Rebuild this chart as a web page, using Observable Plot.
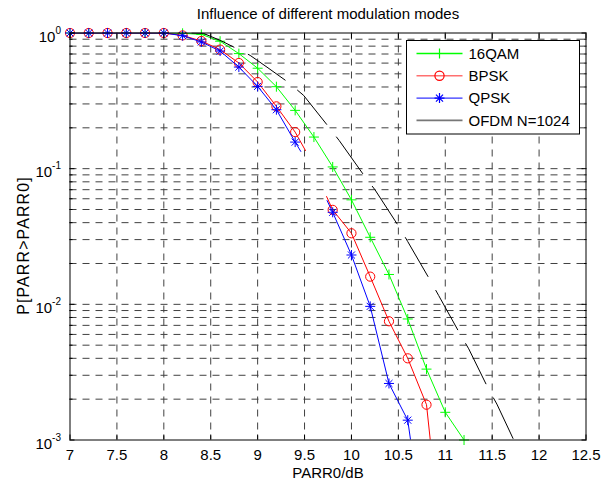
<!DOCTYPE html>
<html><head><meta charset="utf-8">
<script src="https://cdn.jsdelivr.net/npm/d3@7"></script>
<script src="https://cdn.jsdelivr.net/npm/@observablehq/plot@0.6"></script>
<style>
html,body{margin:0;padding:0;background:#fff;}
#chart svg{display:block;}
</style></head><body><div id="chart"></div>
<script>
// ---------- data ----------
const titleText = "Influence of different modulation modes";
const xLabelText = "PARR0/dB";
const yLabelText = "P[PARR>PARR0]";
const seriesNames = ["16QAM", "BPSK", "QPSK", "OFDM N=1024"];
const seriesColors = ["#00ff00", "#ff0000", "#0000ff", "#000000"];

const xTicks = [7, 7.5, 8, 8.5, 9, 9.5, 10, 10.5, 11, 11.5, 12, 12.5];
const yMajor = [1e-3, 1e-2, 1e-1, 1];
const yMinor = [2e-3,3e-3,4e-3,5e-3,6e-3,7e-3,8e-3,9e-3,
                2e-2,3e-2,4e-2,5e-2,6e-2,7e-2,8e-2,9e-2,
                2e-1,3e-1,4e-1,5e-1,6e-1,7e-1,8e-1,9e-1];

// 16QAM (continuous)
const qamX = [7.0,7.2,7.4,7.6,7.8,8.0,8.2,8.4,8.6,8.8,9.0,9.2,9.4,9.6,9.8,10.0,10.2,10.4,10.6,10.8,11.0,11.2];
const qamP = [1,1,1,1,1,1,0.995,0.977,0.87,0.705,0.55,0.402,0.269,0.171,0.103,0.0589,0.0312,0.0166,0.0078,0.00333,0.0016,0.001];
// BPSK (two pieces, NaN = break)
const bpskX = [7.0,7.2,7.4,7.6,7.8,8.0,8.2,8.4,8.6,8.8,9.0,9.2,9.4,9.51,9.6,9.735,9.8,10.0,10.2,10.4,10.6,10.8,10.84];
const bpskP = [1,1,1,1,1,1,0.96,0.873,0.754,0.601,0.435,0.288,0.186,0.136,NaN,0.0623,0.0497,0.0334,0.016,0.0075,0.0040,0.00182,0.001];
// QPSK (two pieces, NaN = break)
const qpskX = [7.0,7.2,7.4,7.6,7.8,8.0,8.2,8.4,8.6,8.8,9.0,9.2,9.4,9.46,9.6,9.74,9.8,10.0,10.2,10.4,10.6,10.63];
const qpskP = [1,1,1,1,1,1,0.955,0.859,0.736,0.561,0.404,0.272,0.157,0.134,NaN,0.0582,0.0477,0.0231,0.00966,0.00261,0.0014,0.001];
// OFDM N=1024 (dashed, no markers)
const ofdmX = [8.30,8.42,8.60,8.78,8.92,9.10,9.32,9.49,9.76,9.87,10.15,10.25,10.51,10.60,10.84,10.93,11.16,11.25,11.46,11.55,11.73];
const ofdmP = [1.0,0.995,0.883,0.767,0.684,0.56,0.436,0.347,0.202,0.161,0.086,0.070,0.037,0.029,0.0150,0.0116,0.0060,0.0047,0.00238,0.00184,0.001];

// ---------- helpers ----------
const rows = (X, P) => X.map((x, i) => ({x, p: P[i]}));
const onGrid = d => Number.isFinite(d.p) && Math.abs(d.x * 5 - Math.round(d.x * 5)) < 1e-6;
const qam = rows(qamX, qamP), bpsk = rows(bpskX, bpskP), qpsk = rows(qpskX, qpskP), ofdm = rows(ofdmX, ofdmP);

const plusSym = {draw(ctx, size) { const r = Math.sqrt(size / Math.PI);
  ctx.moveTo(-r, 0); ctx.lineTo(r, 0); ctx.moveTo(0, -r); ctx.lineTo(0, r); }};
const starSym = {draw(ctx, size) { const r = Math.sqrt(size / Math.PI), d = r * 0.7071;
  ctx.moveTo(-r, 0); ctx.lineTo(r, 0); ctx.moveTo(0, -r); ctx.lineTo(0, r);
  ctx.moveTo(-d, -d); ctx.lineTo(d, d); ctx.moveTo(-d, d); ctx.lineTo(d, -d); }};
const circSym = {draw(ctx, size) { const r = Math.sqrt(size / Math.PI);
  ctx.moveTo(r, 0); ctx.arc(0, 0, r, 0, 2 * Math.PI); }};

const W = 602, H = 482, mL = 69.5, mR = 16.5, mT = 32.5, mB = 42.5;
const gridStyle = {stroke: "#404040", strokeWidth: 1, strokeDasharray: "7,6"};
const font = "Liberation Sans, Arial, Helvetica, sans-serif";

const chart = Plot.plot({
  width: W, height: H,
  marginLeft: mL, marginRight: mR, marginTop: mT, marginBottom: mB,
  style: {fontFamily: font, fontSize: "15px", color: "black", background: "white", overflow: "visible"},
  x: {domain: [7, 12.5], label: null},
  y: {type: "log", domain: [1e-3, 1], label: null},
  marks: [
    Plot.ruleX(xTicks.slice(1, -1), gridStyle),
    Plot.ruleY(yMinor.concat([1e-2, 1e-1]), gridStyle),
    Plot.line(qam, {x: "x", y: "p", stroke: seriesColors[0], strokeWidth: 1, clip: true}),
    Plot.dot(qam.filter(onGrid), {x: "x", y: "p", symbol: plusSym, r: 5, fill: "none", stroke: seriesColors[0], strokeWidth: 1}),
    Plot.line(bpsk, {x: "x", y: "p", stroke: seriesColors[1], strokeWidth: 1, clip: true}),
    Plot.dot(bpsk.filter(onGrid), {x: "x", y: "p", symbol: circSym, r: 4.6, fill: "none", stroke: seriesColors[1], strokeWidth: 1}),
    Plot.line(qpsk, {x: "x", y: "p", stroke: seriesColors[2], strokeWidth: 1, clip: true}),
    Plot.dot(qpsk.filter(onGrid), {x: "x", y: "p", symbol: starSym, r: 5, fill: "none", stroke: seriesColors[2], strokeWidth: 1}),
    Plot.line(ofdm, {x: "x", y: "p", stroke: seriesColors[3], strokeWidth: 1, strokeDasharray: "45,16", clip: true}),
    Plot.frame({stroke: "black", strokeWidth: 1}),
    // axes: labels
    Plot.axisX(xTicks, {anchor: "bottom", tickSize: 0, tickPadding: 9, tickFormat: d => String(d), label: null, fontSize: 15}),
    Plot.axisY(yMajor, {anchor: "left", tickSize: 0, tickPadding: 9, dy: 4,
      tickFormat: d => "10^" + Math.round(Math.log10(d)), label: null, fontSize: 15}),
    // inward ticks
    Plot.axisX(xTicks, {anchor: "bottom", tickSize: -5, tickFormat: () => "", label: null}),
    Plot.axisX(xTicks, {anchor: "top", tickSize: -5, tickFormat: () => "", label: null}),
    Plot.axisY(yMajor, {anchor: "left", tickSize: -5, tickFormat: () => "", label: null}),
    Plot.axisY(yMinor, {anchor: "left", tickSize: -3, tickFormat: () => "", label: null}),
    Plot.axisY(yMajor, {anchor: "right", tickSize: -5, tickFormat: () => "", label: null}),
    Plot.axisY(yMinor, {anchor: "right", tickSize: -3, tickFormat: () => "", label: null}),
    // titles
    Plot.text([titleText], {text: d => d, frameAnchor: "top", dy: -18.5, lineAnchor: "middle", fontSize: 15}),
    Plot.text([xLabelText], {text: d => d, frameAnchor: "bottom", dy: 33.5, lineAnchor: "middle", fontSize: 15}),
    Plot.text([yLabelText], {text: d => d, frameAnchor: "left", dx: -46.5, dy: 9, rotate: -90,
      textAnchor: "middle", lineAnchor: "middle", fontSize: 16})
  ]
});
document.getElementById("chart").appendChild(chart);

const svg = d3.select(chart.tagName.toLowerCase() === "svg" ? chart : chart.querySelector("svg"));

// superscript exponents on y tick labels
svg.selectAll('g[aria-label="y-axis tick label"] text').each(function() {
  const t = this.textContent;
  if (!t.includes("^")) return;
  const [b, e] = t.split("^");
  const s = d3.select(this);
  s.text(null);
  s.append("tspan").text(b);
  s.append("tspan").attr("dy", "-8").attr("font-size", "10").text(e);
});
// y label letter spacing as in the reference
svg.selectAll("text").filter(function() { return this.textContent === yLabelText; })
  .style("letter-spacing", "1.1px");

// legend
const lx = 406.5, ly = 40.5, lw = 173, lh = 93.5, pitch = 22.3;
const lg = svg.append("g").attr("font-family", font).attr("font-size", 15).attr("text-anchor", "start");
lg.append("rect").attr("x", lx).attr("y", ly).attr("width", lw).attr("height", lh)
  .attr("fill", "white").attr("stroke", "black").attr("stroke-width", 1);
const legSyms = [plusSym, circSym, starSym, null];
const legR = [5, 4.6, 5, 0];
const legLine = ["#00ff00", "#ff7070", "#0000ff", "#777777"];
const legW = [1.3, 1.6, 1, 1.6];
seriesNames.forEach((name, i) => {
  const cy = ly + 13 + i * pitch;
  lg.append("line").attr("x1", lx + 10).attr("x2", lx + 56).attr("y1", cy).attr("y2", cy)
    .attr("stroke", legLine[i]).attr("stroke-width", legW[i]);
  if (legSyms[i]) {
    lg.append("path").attr("transform", `translate(${lx + 33},${cy})`)
      .attr("d", d3.symbol(legSyms[i], legR[i] * legR[i] * Math.PI)())
      .attr("fill", "none").attr("stroke", seriesColors[i]).attr("stroke-width", 1.2);
  }
  lg.append("text").attr("x", lx + 62).attr("y", cy).attr("dy", "0.35em").attr("text-anchor", "start").text(name);
});
</script></body></html>
